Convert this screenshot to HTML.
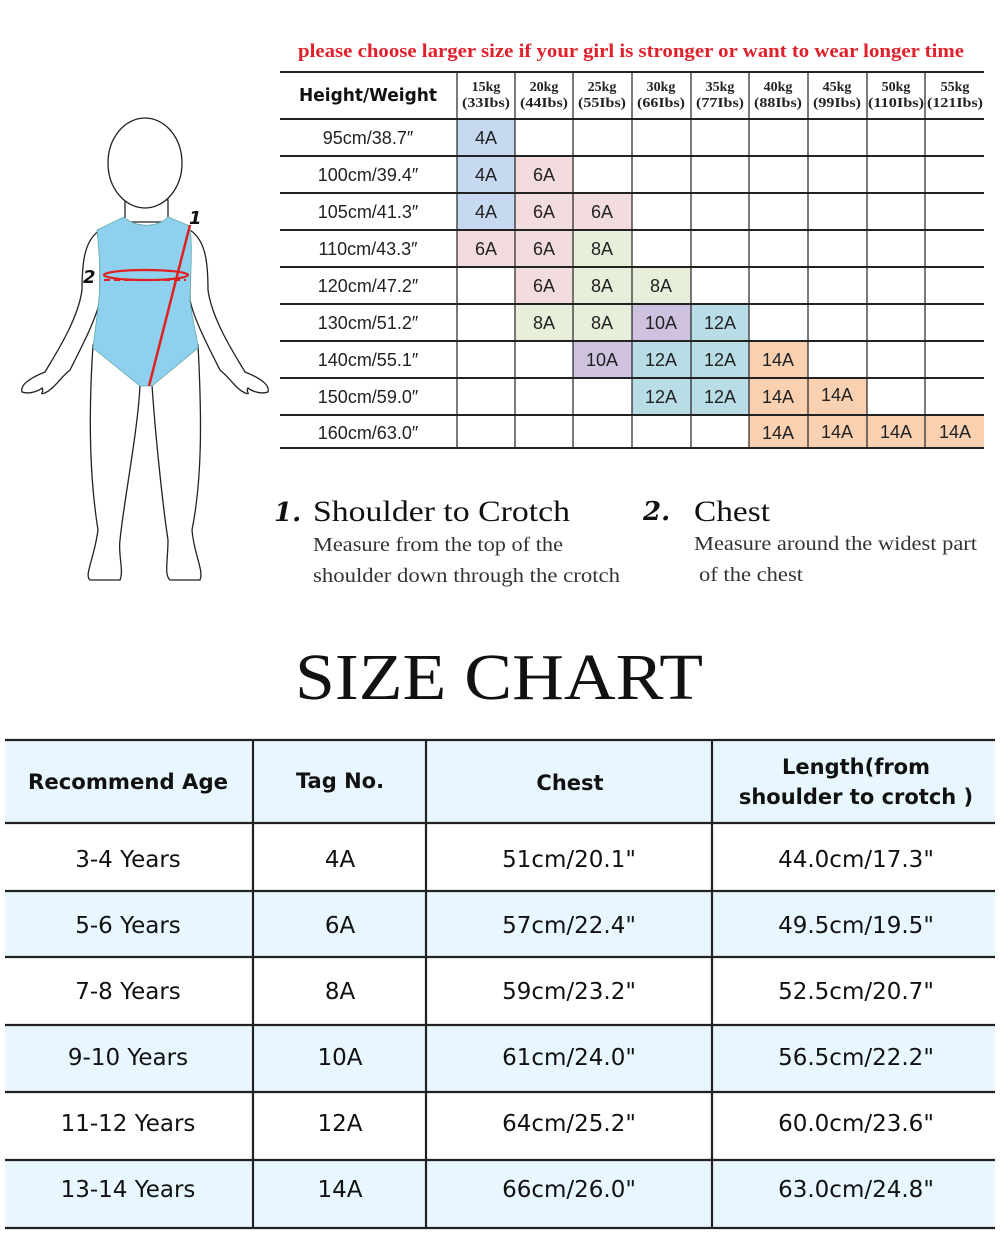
<!DOCTYPE html>
<html><head><meta charset="utf-8"><style>html,body{margin:0;padding:0;background:#fff;width:1000px;height:1250px;overflow:hidden}</style></head>
<body>
<svg width="1000" height="1250" viewBox="0 0 1000 1250" xmlns="http://www.w3.org/2000/svg">
<rect width="1000" height="1250" fill="#fff"/>
<text x="631" y="57" text-anchor="middle" font-family="Liberation Serif, serif" font-weight="bold" font-size="19" fill="#e0202a" textLength="666" lengthAdjust="spacingAndGlyphs">please choose larger size if your girl is stronger or want to wear longer time</text>

<g>
<rect x="457" y="119" width="58" height="37" fill="#c6d9f1"/>
<rect x="457" y="156" width="58" height="37" fill="#c6d9f1"/>
<rect x="457" y="193" width="58" height="37" fill="#c6d9f1"/>
<rect x="457" y="230" width="58" height="37" fill="#f3dcdd"/>
<rect x="515" y="156" width="58" height="148" fill="#f3dcdd"/>
<rect x="573" y="193" width="59" height="37" fill="#f3dcdd"/>
<rect x="573" y="230" width="59" height="74" fill="#e7efdb"/>
<rect x="632" y="267" width="59" height="37" fill="#e7efdb"/>
<rect x="515" y="304" width="58" height="37" fill="#e7efdb"/>
<rect x="573" y="304" width="59" height="37" fill="#e7efdb"/>
<rect x="632" y="304" width="59" height="37" fill="#cfc1e0"/>
<rect x="573" y="341" width="59" height="37" fill="#cfc1e0"/>
<rect x="691" y="304" width="58" height="37" fill="#b8dde6"/>
<rect x="632" y="341" width="117" height="74" fill="#b8dde6"/>
<rect x="749" y="341" width="59" height="107" fill="#f9d0b0"/>
<rect x="808" y="378" width="59" height="70" fill="#f9d0b0"/>
<rect x="867" y="415" width="117" height="33" fill="#f9d0b0"/>
</g>
<g stroke="#222" stroke-width="2">
<line x1="280" y1="72" x2="984" y2="72"/>
<line x1="280" y1="119" x2="984" y2="119"/>
<line x1="280" y1="156" x2="984" y2="156"/>
<line x1="280" y1="193" x2="984" y2="193"/>
<line x1="280" y1="230" x2="984" y2="230"/>
<line x1="280" y1="267" x2="984" y2="267"/>
<line x1="280" y1="304" x2="984" y2="304"/>
<line x1="280" y1="341" x2="984" y2="341"/>
<line x1="280" y1="378" x2="984" y2="378"/>
<line x1="280" y1="415" x2="984" y2="415"/>
<line x1="280" y1="448" x2="984" y2="448"/>
</g>
<g stroke="#222" stroke-width="1.2">
<line x1="457" y1="72" x2="457" y2="448"/>
<line x1="515" y1="72" x2="515" y2="448"/>
<line x1="573" y1="72" x2="573" y2="448"/>
<line x1="632" y1="72" x2="632" y2="448"/>
<line x1="691" y1="72" x2="691" y2="448"/>
<line x1="749" y1="72" x2="749" y2="448"/>
<line x1="808" y1="72" x2="808" y2="448"/>
<line x1="867" y1="72" x2="867" y2="448"/>
<line x1="925" y1="72" x2="925" y2="448"/>
</g>
<text x="368" y="101" text-anchor="middle" font-family="DejaVu Sans, sans-serif" font-weight="bold" font-size="18" fill="#111" textLength="138" lengthAdjust="spacingAndGlyphs">Height/Weight</text>
<g font-family="Liberation Serif, serif" font-weight="bold" font-size="14" fill="#222" text-anchor="middle">
<text x="486" y="91">15kg</text><text x="486" y="107" textLength="48" lengthAdjust="spacingAndGlyphs">(33Ibs)</text>
<text x="544" y="91">20kg</text><text x="544" y="107" textLength="48" lengthAdjust="spacingAndGlyphs">(44Ibs)</text>
<text x="602" y="91">25kg</text><text x="602" y="107" textLength="48" lengthAdjust="spacingAndGlyphs">(55Ibs)</text>
<text x="661" y="91">30kg</text><text x="661" y="107" textLength="48" lengthAdjust="spacingAndGlyphs">(66Ibs)</text>
<text x="720" y="91">35kg</text><text x="720" y="107" textLength="48" lengthAdjust="spacingAndGlyphs">(77Ibs)</text>
<text x="778" y="91">40kg</text><text x="778" y="107" textLength="48" lengthAdjust="spacingAndGlyphs">(88Ibs)</text>
<text x="837" y="91">45kg</text><text x="837" y="107" textLength="48" lengthAdjust="spacingAndGlyphs">(99Ibs)</text>
<text x="896" y="91">50kg</text><text x="896" y="107" textLength="56" lengthAdjust="spacingAndGlyphs">(110Ibs)</text>
<text x="955" y="91">55kg</text><text x="955" y="107" textLength="56" lengthAdjust="spacingAndGlyphs">(121Ibs)</text>
</g>
<g font-family="Liberation Sans, sans-serif" font-size="18" fill="#222" text-anchor="middle">
<text x="368" y="144">95cm/38.7″</text>
<text x="368" y="181">100cm/39.4″</text>
<text x="368" y="218">105cm/41.3″</text>
<text x="368" y="255">110cm/43.3″</text>
<text x="368" y="292">120cm/47.2″</text>
<text x="368" y="329">130cm/51.2″</text>
<text x="368" y="366">140cm/55.1″</text>
<text x="368" y="403">150cm/59.0″</text>
<text x="368" y="439">160cm/63.0″</text>
<text x="486" y="144">4A</text>
<text x="486" y="181">4A</text><text x="544" y="181">6A</text>
<text x="486" y="218">4A</text><text x="544" y="218">6A</text><text x="602" y="218">6A</text>
<text x="486" y="255">6A</text><text x="544" y="255">6A</text><text x="602" y="255">8A</text>
<text x="544" y="292">6A</text><text x="602" y="292">8A</text><text x="661" y="292">8A</text>
<text x="544" y="329">8A</text><text x="602" y="329">8A</text><text x="661" y="329">10A</text><text x="720" y="329">12A</text>
<text x="602" y="366">10A</text><text x="661" y="366">12A</text><text x="720" y="366">12A</text><text x="778" y="366">14A</text>
<text x="661" y="403">12A</text><text x="720" y="403">12A</text><text x="778" y="403">14A</text><text x="837" y="401">14A</text>
<text x="778" y="439">14A</text><text x="837" y="438">14A</text><text x="896" y="438">14A</text><text x="955" y="438">14A</text>
</g>

<g stroke="#222" stroke-width="1.3" fill="#fff">
<path d="M93 345 C88 420 90 480 98 530 C94 560 84 575 90 580 L120 580 C124 570 118 555 120 540 C124 500 138 430 140 385 L152 385 C155 430 162 500 168 540 C168 560 164 575 170 580 L200 580 C204 570 194 555 192 530 C202 480 202 420 198 345 Z"/>
<path d="M100 230 C85 240 82 260 82 290 C78 320 55 355 45 372 C30 378 20 385 22 392 C30 395 40 390 42 388 C45 392 38 395 45 393 C55 388 58 380 70 370 C80 350 96 320 100 300 Z"/>
<path d="M190 230 C205 240 208 260 208 290 C212 320 235 355 245 372 C260 378 270 385 268 392 C260 395 250 390 248 388 C245 392 252 395 245 393 C235 388 232 380 220 370 C210 350 194 320 190 300 Z"/>
<path d="M125 200 L125 222 L168 222 L168 200 Z"/>
<ellipse cx="145" cy="163" rx="37" ry="45"/>
</g>
<path d="M124 217 C135 228 158 228 168 217 L190 226 C193 250 190 280 190 300 C192 320 198 340 198 348 L152 386 L140 386 L93 348 C96 320 100 300 100 280 C100 260 98 240 97 230 Z" fill="#8fd0ee" stroke="#6aa" stroke-width="0.8"/>
<ellipse cx="146" cy="275" rx="42" ry="5" fill="none" stroke="#e02020" stroke-width="2.2"/>
<line x1="104" y1="280" x2="186" y2="280" stroke="#e02020" stroke-width="2" stroke-dasharray="6,4"/>
<line x1="190" y1="225" x2="149" y2="386" stroke="#e02020" stroke-width="2.5"/>
<text x="189" y="224" font-family="DejaVu Sans, sans-serif" font-style="italic" font-weight="bold" font-size="18" fill="#111">1</text>
<text x="83" y="283" font-family="DejaVu Sans, sans-serif" font-style="italic" font-weight="bold" font-size="18" fill="#111">2</text>

<text x="274" y="521" font-family="DejaVu Serif, serif" font-style="italic" font-weight="bold" font-size="26" fill="#111">1.</text>
<text x="313" y="521" font-family="Liberation Serif, serif" font-size="30" fill="#111" textLength="257" lengthAdjust="spacingAndGlyphs">Shoulder to Crotch</text>
<text x="313" y="551" font-family="Liberation Serif, serif" font-size="20" fill="#333" textLength="250" lengthAdjust="spacingAndGlyphs">Measure from the top of the</text>
<text x="313" y="582" font-family="Liberation Serif, serif" font-size="20" fill="#333" textLength="307" lengthAdjust="spacingAndGlyphs">shoulder down through the crotch</text>
<text x="643" y="520" font-family="DejaVu Serif, serif" font-style="italic" font-weight="bold" font-size="26" fill="#111">2.</text>
<text x="694" y="521" font-family="Liberation Serif, serif" font-size="30" fill="#111" textLength="76" lengthAdjust="spacingAndGlyphs">Chest</text>
<text x="694" y="550" font-family="Liberation Serif, serif" font-size="20" fill="#333" textLength="283" lengthAdjust="spacingAndGlyphs">Measure around the widest part</text>
<text x="699" y="581" font-family="Liberation Serif, serif" font-size="20" fill="#333" textLength="104" lengthAdjust="spacingAndGlyphs">of the chest</text>

<text x="499" y="699" text-anchor="middle" font-family="Liberation Serif, serif" font-size="66" fill="#111" textLength="408" lengthAdjust="spacingAndGlyphs">SIZE CHART</text>

<rect x="5" y="740" width="990" height="83" fill="#e8f7fd"/>
<rect x="5" y="891" width="990" height="66" fill="#e8f7fd"/>
<rect x="5" y="1025" width="990" height="67" fill="#e8f7fd"/>
<rect x="5" y="1160" width="990" height="68" fill="#e8f7fd"/>
<g stroke="#222" stroke-width="2.2">
<line x1="5" y1="740" x2="995" y2="740"/>
<line x1="5" y1="823" x2="995" y2="823"/>
<line x1="5" y1="891" x2="995" y2="891"/>
<line x1="5" y1="957" x2="995" y2="957"/>
<line x1="5" y1="1025" x2="995" y2="1025"/>
<line x1="5" y1="1092" x2="995" y2="1092"/>
<line x1="5" y1="1160" x2="995" y2="1160"/>
<line x1="5" y1="1228" x2="995" y2="1228"/>
<line x1="253" y1="740" x2="253" y2="1228"/>
<line x1="426" y1="740" x2="426" y2="1228"/>
<line x1="712" y1="740" x2="712" y2="1228"/>
</g>
<g font-family="DejaVu Sans, sans-serif" font-weight="bold" font-size="21" fill="#111" text-anchor="middle">
<text x="128" y="789" textLength="200" lengthAdjust="spacingAndGlyphs">Recommend Age</text>
<text x="340" y="788">Tag No.</text>
<text x="570" y="790">Chest</text>
<text x="856" y="774">Length(from</text>
<text x="856" y="804">shoulder to crotch )</text>
</g>
<g font-family="DejaVu Sans, sans-serif" font-size="23" fill="#111" text-anchor="middle">
<text x="128" y="867">3-4 Years</text><text x="340" y="867">4A</text><text x="569" y="867">51cm/20.1"</text><text x="856" y="867">44.0cm/17.3"</text>
<text x="128" y="933">5-6 Years</text><text x="340" y="933">6A</text><text x="569" y="933">57cm/22.4"</text><text x="856" y="933">49.5cm/19.5"</text>
<text x="128" y="999">7-8 Years</text><text x="340" y="999">8A</text><text x="569" y="999">59cm/23.2"</text><text x="856" y="999">52.5cm/20.7"</text>
<text x="128" y="1065">9-10 Years</text><text x="340" y="1065">10A</text><text x="569" y="1065">61cm/24.0"</text><text x="856" y="1065">56.5cm/22.2"</text>
<text x="128" y="1131">11-12 Years</text><text x="340" y="1131">12A</text><text x="569" y="1131">64cm/25.2"</text><text x="856" y="1131">60.0cm/23.6"</text>
<text x="128" y="1197">13-14 Years</text><text x="340" y="1197">14A</text><text x="569" y="1197">66cm/26.0"</text><text x="856" y="1197">63.0cm/24.8"</text>
</g>
</svg>
</body></html>
